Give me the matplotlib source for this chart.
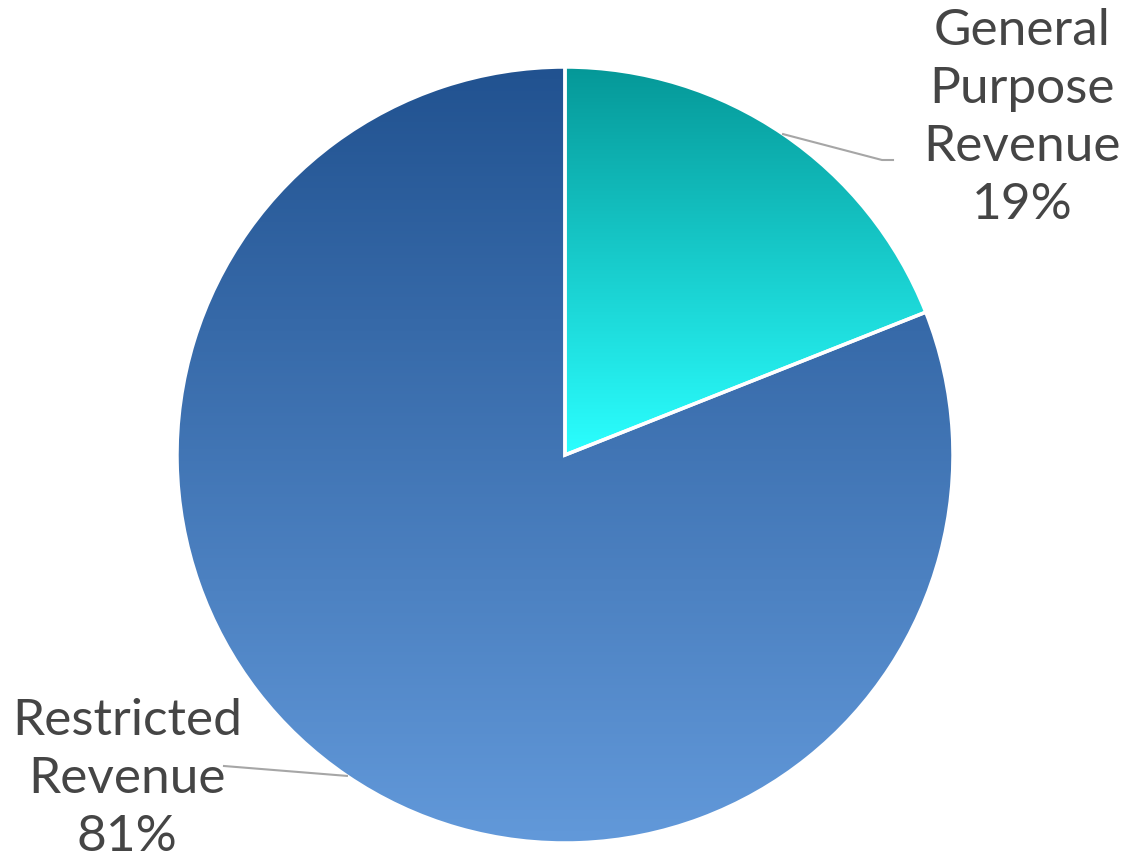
import numpy as np
import matplotlib.pyplot as plt
from matplotlib.colors import LinearSegmentedColormap

categories = ['General\nPurpose\nRevenue', 'Restricted\nRevenue']
shares = [19, 81]
top_colors = ['#059898', '#215290']
bottom_colors = ['#2bffff', '#6299da']

W, H = 1132, 859
fig = plt.figure(figsize=(W / 100, H / 100), dpi=100)
ax = fig.add_axes([0, 0, 1, 1])

cx, cy, r = 565, H - 455, 388
wedges, _ = ax.pie(shares, startangle=90, counterclock=False,
                   center=(cx, cy), radius=r, frame=True,
                   wedgeprops=dict(edgecolor='white', linewidth=2.5))

# vertical gradient fill for each slice, clipped to the wedge shape
for w, c0, c1 in zip(wedges, top_colors, bottom_colors):
    w.set_facecolor('none')
    ext = w.get_path().get_extents(w.get_transform())
    inv = ax.transData.inverted()
    (x0, y0), (x1, y1) = inv.transform([[ext.x0, ext.y0], [ext.x1, ext.y1]])
    cmap = LinearSegmentedColormap.from_list('g', [c1, c0])
    grad = np.linspace(0, 1, 256).reshape(-1, 1)
    im = ax.imshow(grad, cmap=cmap, origin='lower', aspect='auto',
                   extent=(x0, x1, y0, y1), zorder=1)
    im.set_clip_path(w)
    w.set_zorder(2)

ax.set_xlim(0, W)
ax.set_ylim(0, H)
ax.set_aspect('equal')
ax.axis('off')

text_kw = dict(fontsize=37, color='#454545', family=['Lato', 'DejaVu Sans'],
               ha='center', va='center', linespacing=1.32)

label_pos = [(1022, H - 118), (127, H - 779)]
leader_end = [[(882, H - 160), (893, H - 160)], [(224, H - 766)]]
for w, cat, share, (lx, ly), ends in zip(wedges, categories, shares, label_pos, leader_end):
    mid = np.deg2rad((w.theta1 + w.theta2) / 2)
    sx, sy = cx + r * np.cos(mid), cy + r * np.sin(mid)
    xs = [sx] + [p[0] for p in ends]
    ys = [sy] + [p[1] for p in ends]
    ax.plot(xs, ys, color='#a6a6a6', lw=1.5, zorder=3)
    ax.text(lx, ly, f'{cat}\n{share}%', **text_kw)

fig.savefig('out.png', dpi=100)
